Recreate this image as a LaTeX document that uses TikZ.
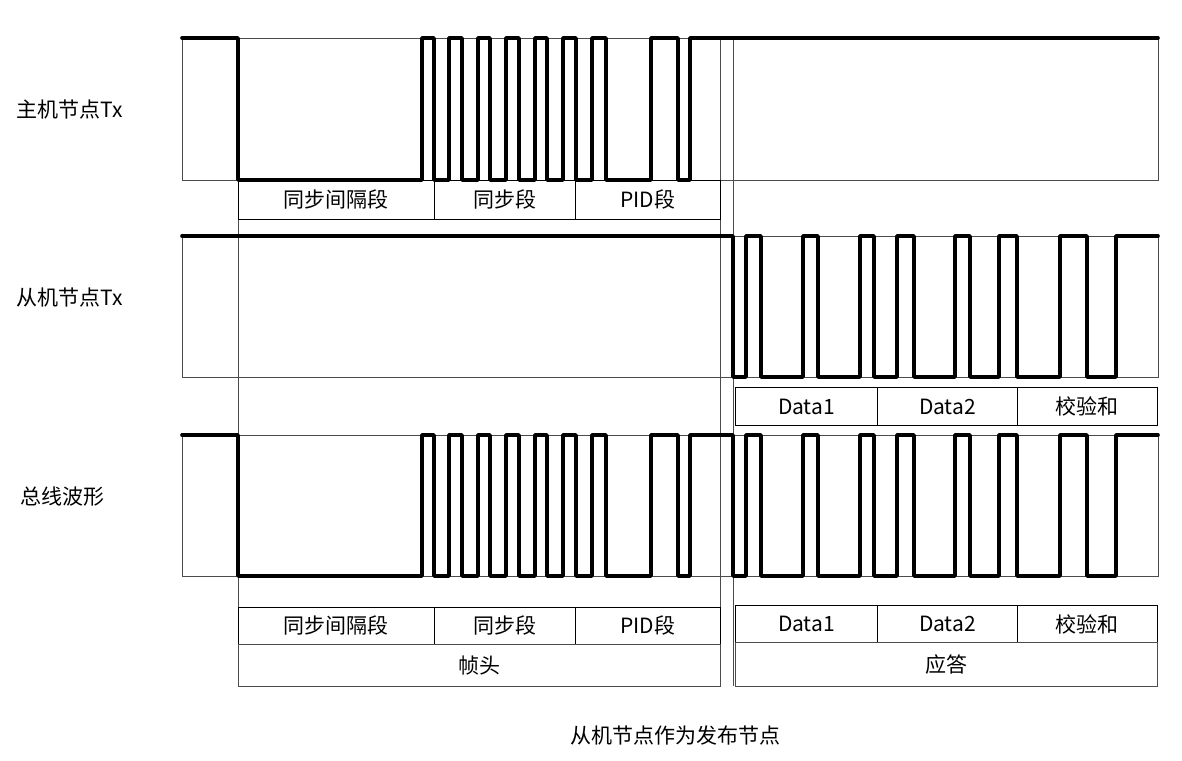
\documentclass[tikz,border=0pt]{standalone}
\usepackage{fontspec}
\setmainfont{Noto Sans CJK SC}
\begin{document}
\begin{tikzpicture}[x=1pt,y=-1pt,
  wave/.style={line width=3.6pt,line cap=round,line join=round},
  guide/.style={line width=0.8pt,black!70},
  lbl/.style={draw,line width=0.9pt,minimum height=38pt,inner sep=0pt,anchor=north west,font=\fontsize{21}{24}\selectfont},
  txt/.style={font=\fontsize{21}{24}\selectfont}]
\useasboundingbox (0,0) rectangle (1182,760);
% frames
\draw[guide] (182,38) rectangle (1158,180);
\draw[guide] (182,236) rectangle (1158,377);
\draw[guide] (182,435) rectangle (1158,576);
\draw[guide] (238,38) -- (238,686);
\draw[guide] (720,38) -- (720,686);
\draw[guide] (733,38) -- (733,686);
% master Tx
\draw[wave] (182,38) -| (238,180) -| (422,38) -| (434,180) -| (449,38) -| (462,180) -| (478,38) -| (490,180) -| (506,38) -| (519,180) -| (535,38) -| (547,180) -| (563,38) -| (576,180) -| (592,38) -| (606,180) -| (651,38) -| (678,180) -| (690,38) -- (1158,38);
% slave Tx
\draw[wave] (182,236) -| (733,377) -| (746,236) -| (761,377) -| (803,236) -| (818,377) -| (860,236) -| (874,377) -| (897,236) -| (914,377) -| (955,236) -| (970,377) -| (999,236) -| (1017,377) -| (1060,236) -| (1087,377) -| (1116,236) -- (1158,236);
% bus
\draw[wave] (182,435) -| (238,576) -| (422,435) -| (434,576) -| (449,435) -| (462,576) -| (478,435) -| (490,576) -| (506,435) -| (519,576) -| (535,435) -| (547,576) -| (563,435) -| (576,576) -| (592,435) -| (606,576) -| (651,435) -| (678,576) -| (690,435) -| (733,576) -| (746,435) -| (761,576) -| (803,435) -| (818,576) -| (860,435) -| (874,576) -| (897,435) -| (914,576) -| (955,435) -| (970,576) -| (999,435) -| (1017,576) -| (1060,435) -| (1087,576) -| (1116,435) -- (1158,435);
% top labels
\node[lbl,minimum width=196pt,minimum height=39pt] (a1) at (238,180) {同步间隔段};
\node[lbl,minimum width=141pt,minimum height=39pt] (a2) at (434,180) {同步段};
\node[lbl,minimum width=145pt,minimum height=39pt] (a3) at (575,180) {PID段};
% middle labels
\node[lbl,minimum width=142pt] (b1) at (735,387) {Data1};
\node[lbl,minimum width=140pt] (b2) at (877,387) {Data2};
\node[lbl,minimum width=140pt] (b3) at (1017,387) {校验和};
% bottom labels
\node[lbl,minimum width=196pt,minimum height=37pt] (c1) at (238,607) {同步间隔段};
\node[lbl,minimum width=141pt,minimum height=37pt] (c2) at (434,607) {同步段};
\node[lbl,minimum width=145pt,minimum height=37pt] (c3) at (575,607) {PID段};
\node[lbl,minimum width=142pt,minimum height=37pt] (d1) at (735,605) {Data1};
\node[lbl,minimum width=140pt,minimum height=37pt] (d2) at (877,605) {Data2};
\node[lbl,minimum width=140pt,minimum height=37pt] (d3) at (1017,605) {校验和};
\node[lbl,minimum width=482pt,minimum height=42pt,draw=black!70] (e1) at (238,644) {帧头};
\node[lbl,minimum width=422pt,minimum height=44pt,draw=black!70] (e2) at (735,642) {应答};
% side labels
\node[txt] (s1) at (70,110) {主机节点Tx};
\node[txt] (s2) at (70,298) {从机节点Tx};
\node[txt] (s3) at (62,497) {总线波形};
\node[txt] (cap) at (675,735) {从机节点作为发布节点};
\end{tikzpicture}
\end{document}
